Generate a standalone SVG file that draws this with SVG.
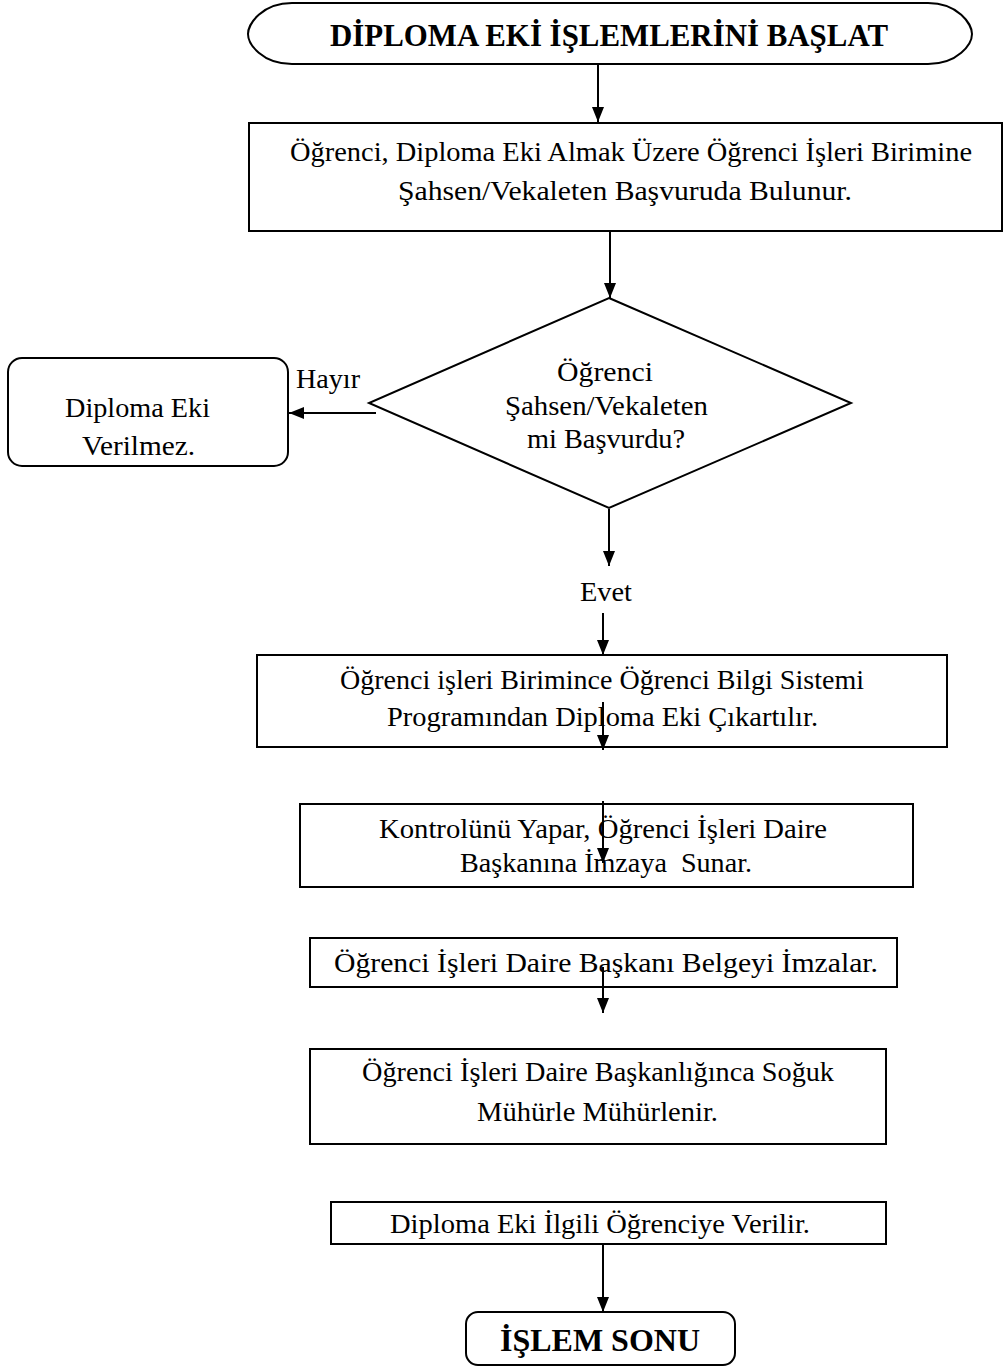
<svg xmlns="http://www.w3.org/2000/svg" width="1003" height="1368" viewBox="0 0 1003 1368">
<defs>
<style>
.s{fill:#fff;stroke:#000;stroke-width:2}
.t{font-family:"Liberation Serif","Times New Roman",Times,serif;font-size:28px;fill:#000}
.b{font-family:"Liberation Serif","Times New Roman",Times,serif;font-size:31px;font-weight:bold;fill:#000}
.c{fill:none;stroke:#000;stroke-width:2}
</style>
<marker id="ah" viewBox="0 0 10 10" refX="10" refY="5" markerWidth="15" markerHeight="12" markerUnits="userSpaceOnUse" orient="auto" preserveAspectRatio="none">
<path d="M0,0 L10,5 L0,10 Z" fill="#000"/>
</marker>
</defs>
<rect width="1003" height="1368" fill="#fff"/>
<g id="start">
<path class="s" d="M292,3 L928,3 C958,3 972,24 972,34 C972,44 958,64 928,64 L292,64 C262,64 248,44 248,34 C248,24 262,3 292,3 Z"/>
<text class="b" font-family="Liberation Serif" x="330" y="46" textLength="558" lengthAdjust="spacingAndGlyphs">DİPLOMA EKİ İŞLEMLERİNİ BAŞLAT</text>
</g>
<g id="basvuru">
<rect class="s" x="249" y="123" width="753" height="108"/>
<text class="t" font-family="Liberation Serif" x="290" y="161" textLength="682" lengthAdjust="spacingAndGlyphs">Öğrenci, Diploma Eki Almak Üzere Öğrenci İşleri Birimine</text>
<text class="t" font-family="Liberation Serif" x="398" y="200" textLength="454" lengthAdjust="spacingAndGlyphs">Şahsen/Vekaleten Başvuruda Bulunur.</text>
</g>
<g id="karar">
<polygon class="s" points="609,298 851,403 609,508 369,403"/>
<text class="t" font-family="Liberation Serif" x="557" y="381" textLength="96" lengthAdjust="spacingAndGlyphs">Öğrenci</text>
<text class="t" font-family="Liberation Serif" x="505" y="415" textLength="203" lengthAdjust="spacingAndGlyphs">Şahsen/Vekaleten</text>
<text class="t" font-family="Liberation Serif" x="527" y="448" textLength="158" lengthAdjust="spacingAndGlyphs">mi Başvurdu?</text>
</g>
<g id="verilmez">
<rect class="s" x="8" y="358" width="280" height="108" rx="14"/>
<text class="t" font-family="Liberation Serif" x="65" y="417" textLength="145" lengthAdjust="spacingAndGlyphs">Diploma Eki</text>
<text class="t" font-family="Liberation Serif" x="82" y="455" textLength="113" lengthAdjust="spacingAndGlyphs">Verilmez.</text>
</g>
<g id="cikartilir">
<rect class="s" x="257" y="655" width="690" height="92"/>
<text class="t" font-family="Liberation Serif" x="340" y="689" textLength="524" lengthAdjust="spacingAndGlyphs">Öğrenci işleri Birimince Öğrenci Bilgi Sistemi</text>
<text class="t" font-family="Liberation Serif" x="387" y="726" textLength="431" lengthAdjust="spacingAndGlyphs">Programından Diploma Eki Çıkartılır.</text>
</g>
<g id="kontrol">
<rect class="s" x="300" y="804" width="613" height="83"/>
<text class="t" font-family="Liberation Serif" x="379" y="838" textLength="448" lengthAdjust="spacingAndGlyphs">Kontrolünü Yapar, Öğrenci İşleri Daire</text>
<text class="t" font-family="Liberation Serif" x="460" y="872" textLength="292" lengthAdjust="spacingAndGlyphs">Başkanına İmzaya&#160; Sunar.</text>
</g>
<g id="imza">
<rect class="s" x="310" y="938" width="587" height="49"/>
<text class="t" font-family="Liberation Serif" x="334" y="972" textLength="544" lengthAdjust="spacingAndGlyphs">Öğrenci İşleri Daire Başkanı Belgeyi İmzalar.</text>
</g>
<g id="muhur">
<rect class="s" x="310" y="1049" width="576" height="95"/>
<text class="t" font-family="Liberation Serif" x="362" y="1081" textLength="472" lengthAdjust="spacingAndGlyphs">Öğrenci İşleri Daire Başkanlığınca Soğuk</text>
<text class="t" font-family="Liberation Serif" x="477" y="1121" textLength="241" lengthAdjust="spacingAndGlyphs">Mühürle Mühürlenir.</text>
</g>
<g id="verilir">
<rect class="s" x="331" y="1202" width="555" height="42"/>
<text class="t" font-family="Liberation Serif" x="390" y="1233" textLength="420" lengthAdjust="spacingAndGlyphs">Diploma Eki İlgili Öğrenciye Verilir.</text>
</g>
<g id="son">
<rect class="s" x="466" y="1312" width="269" height="53" rx="12"/>
<text class="b" font-family="Liberation Serif" x="500" y="1351" textLength="200" lengthAdjust="spacingAndGlyphs">İŞLEM SONU</text>
</g>
<g id="connectors">
<line class="c" x1="598" y1="65" x2="598" y2="122" marker-end="url(#ah)"/>
<line class="c" x1="610" y1="232" x2="610" y2="298" marker-end="url(#ah)"/>
<line class="c" x1="376" y1="413" x2="289" y2="413" marker-end="url(#ah)"/>
<text class="t" font-family="Liberation Serif" x="296" y="388" textLength="64" lengthAdjust="spacingAndGlyphs">Hayır</text>
<line class="c" x1="609" y1="509" x2="609" y2="566" marker-end="url(#ah)"/>
<text class="t" font-family="Liberation Serif" x="580" y="601" textLength="52" lengthAdjust="spacingAndGlyphs">Evet</text>
<line class="c" x1="603" y1="613" x2="603" y2="655" marker-end="url(#ah)"/>
<line class="c" x1="603" y1="702" x2="603" y2="750" marker-end="url(#ah)"/>
<line class="c" x1="603" y1="801" x2="603" y2="863" marker-end="url(#ah)"/>
<line class="c" x1="603" y1="967" x2="603" y2="1013" marker-end="url(#ah)"/>
<line class="c" x1="603" y1="1245" x2="603" y2="1312" marker-end="url(#ah)"/>
</g>
</svg>
